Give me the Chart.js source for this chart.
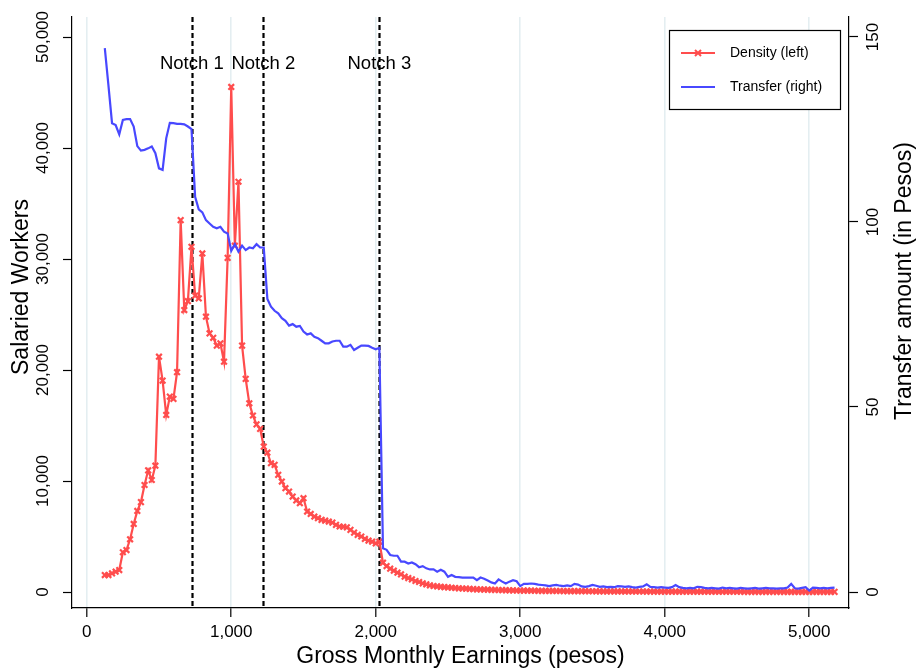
<!DOCTYPE html>
<html>
<head>
<meta charset="utf-8">
<title>Salaried workers and transfer by gross monthly earnings</title>
<script src="https://cdn.jsdelivr.net/npm/chart.js@4.4.0/dist/chart.umd.min.js"></script>
<style>
    html, body { margin: 0; padding: 0; background: #ffffff; }
    #wrap { width: 917px; height: 670px; }
</style>
</head>
<body>
<div id="wrap"><canvas id="earningsChart" width="917" height="670"></canvas></div>
<script>
// Bin centres (gross monthly earnings, pesos)
const earnings = [
    125, 150, 175, 200, 225, 250, 275, 300, 325, 350,
    375, 400, 425, 450, 475, 500, 525, 550, 575, 600,
    625, 650, 675, 700, 725, 750, 775, 800, 825, 850,
    875, 900, 925, 950, 975, 1000, 1025, 1050, 1075, 1100,
    1125, 1150, 1175, 1200, 1225, 1250, 1275, 1300, 1325, 1350,
    1375, 1400, 1425, 1450, 1475, 1500, 1525, 1550, 1575, 1600,
    1625, 1650, 1675, 1700, 1725, 1750, 1775, 1800, 1825, 1850,
    1875, 1900, 1925, 1950, 1975, 2000, 2025, 2050, 2075, 2100,
    2125, 2150, 2175, 2200, 2225, 2250, 2275, 2300, 2325, 2350,
    2375, 2400, 2425, 2450, 2475, 2500, 2525, 2550, 2575, 2600,
    2625, 2650, 2675, 2700, 2725, 2750, 2775, 2800, 2825, 2850,
    2875, 2900, 2925, 2950, 2975, 3000, 3025, 3050, 3075, 3100,
    3125, 3150, 3175, 3200, 3225, 3250, 3275, 3300, 3325, 3350,
    3375, 3400, 3425, 3450, 3475, 3500, 3525, 3550, 3575, 3600,
    3625, 3650, 3675, 3700, 3725, 3750, 3775, 3800, 3825, 3850,
    3875, 3900, 3925, 3950, 3975, 4000, 4025, 4050, 4075, 4100,
    4125, 4150, 4175, 4200, 4225, 4250, 4275, 4300, 4325, 4350,
    4375, 4400, 4425, 4450, 4475, 4500, 4525, 4550, 4575, 4600,
    4625, 4650, 4675, 4700, 4725, 4750, 4775, 4800, 4825, 4850,
    4875, 4900, 4925, 4950, 4975, 5000, 5025, 5050, 5075, 5100,
    5125, 5150, 5175
];

// Density (left axis, salaried workers)
const density = [
    1530, 1530, 1680, 1830, 1980, 3580, 3780, 4750, 6130, 7300,
    8100, 9640, 10960, 10090, 11380, 21200, 19040, 15950, 17600, 17400,
    19800, 33500, 25400, 26200, 31100, 26700, 26450, 30500, 24800, 23300,
    22900, 22200, 22400, 20750, 30100, 45500, 31200, 36960, 22200, 19200,
    17000, 15900, 15100, 14700, 13100, 12550, 11600, 11450, 10550, 9950,
    9350, 9050, 8600, 8250, 8000, 8450, 7250, 7030, 6800, 6650,
    6500, 6430, 6350, 6250, 6050, 5900, 5880, 5830, 5600, 5350,
    5150, 5000, 4780, 4630, 4530, 4380, 4530, 2640, 2340, 2100,
    1920, 1740, 1590, 1380, 1260, 1140, 990, 900, 780, 690,
    600, 540, 500, 470, 440, 410, 385, 360, 335, 315,
    295, 275, 260, 245, 232, 220, 210, 200, 190, 180,
    170, 160, 152, 145, 137, 130, 126, 121, 117, 113,
    109, 105, 101, 98, 95, 92, 89, 86, 83, 80,
    78, 76, 73, 71, 69, 67, 65, 63, 61, 59,
    57, 56, 54, 52, 51, 49, 48, 46, 45, 44,
    43, 41, 40, 39, 38, 37, 36, 35, 34, 33,
    32, 31, 31, 30, 29, 28, 28, 27, 26, 26,
    25, 24, 24, 23, 23, 22, 22, 21, 21, 20,
    20, 19, 19, 18, 18, 18, 17, 17, 16, 16,
    16, 15, 15, 15, 14, 14, 14, 13, 13, 13,
    12, 12, 12
];

// Transfer (right axis, pesos)
const transfer = [
    147, 137, 126.7, 126.2, 123.7, 127.6, 127.8, 127.8, 125.8, 120.5,
    119.3, 119.5, 119.9, 120.4, 118.6, 114.5, 114.1, 122.6, 126.8, 126.7,
    126.5, 126.5, 126.4, 125.8, 125.1, 106.8, 103.4, 102.6, 100.5, 99.6,
    98.7, 98.3, 98.7, 97.4, 96.9, 92.2, 94.0, 92.0, 93.6, 92.4,
    93.1, 92.9, 94.0, 93.1, 93.1, 79.2, 77.1, 76.0, 75.3, 74.0,
    73.3, 72.0, 72.4, 71.7, 71.9, 70.4, 69.6, 69.9, 69.0, 68.6,
    67.9, 67.2, 67.2, 67.7, 67.9, 67.9, 66.3, 66.3, 66.8, 65.4,
    66.0, 66.6, 66.6, 66.5, 66.0, 65.6, 66.0, 11.8, 11.4, 10.0,
    9.8, 9.8, 8.2, 8.2, 7.7, 8.0, 7.5, 6.7, 7.0, 6.4,
    6.1, 6.1, 5.5, 6.0, 5.5, 4.1, 4.6, 4.1, 4.0, 3.9,
    3.9, 3.9, 3.9, 3.2, 3.9, 3.6, 3.1, 2.6, 2.3, 3.4,
    2.8, 2.3, 2.8, 3.2, 2.9, 1.6, 2.2, 2.2, 2.3, 2.2,
    2.0, 1.9, 1.8, 1.6, 1.8, 1.9, 1.7, 1.6, 1.8, 1.6,
    2.2, 2.0, 1.5, 1.4, 1.6, 1.9, 1.7, 1.4, 1.5, 1.3,
    1.4, 1.3, 1.6, 1.5, 1.4, 1.5, 1.3, 1.2, 1.4, 1.5,
    2.1, 1.4, 1.3, 1.2, 1.3, 1.2, 1.1, 1.3, 1.9, 1.3,
    1.1, 1.0, 1.1, 1.0, 1.4, 1.3, 1.1, 1.0, 1.1, 1.0,
    0.9, 1.2, 1.0, 1.1, 1.0, 0.9, 1.1, 1.0, 0.9, 1.0,
    1.1, 0.9, 1.0, 1.1, 1.0, 1.0, 0.9, 1.0, 1.0, 1.2,
    2.2, 1.0, 0.9, 1.1, 1.3, 0.4, 1.2, 1.1, 1.0, 1.1,
    1.0, 1.1, 1.2
];

const notches = [727, 1222, 2025];
const notchLabels = ['Notch 1', 'Notch 2', 'Notch 3'];

const xTicks = [0, 1000, 2000, 3000, 4000, 5000];
const xTickLabels = ['0', '1,000', '2,000', '3,000', '4,000', '5,000'];
const leftTicks = [0, 10000, 20000, 30000, 40000, 50000];
const leftTickLabels = ['0', '10,000', '20,000', '30,000', '40,000', '50,000'];
const rightTicks = [0, 50, 100, 150];
const rightTickLabels = ['0', '50', '100', '150'];

const FONT = '"Liberation Sans", Arial, Helvetica, sans-serif';
const RED = 'rgb(255, 77, 77)';
const BLUE = 'rgb(72, 72, 255)';
const GRID = 'rgb(228, 238, 241)';

function drawRotated(ctx, text, x, y) {
    ctx.save();
    ctx.translate(x, y);
    ctx.rotate(-Math.PI / 2);
    ctx.textAlign = 'center';
    ctx.textBaseline = 'middle';
    ctx.fillText(text, 0, 0);
    ctx.restore();
}

function drawCross(ctx, x, y, r) {
    ctx.beginPath();
    ctx.moveTo(x - r, y - r);
    ctx.lineTo(x + r, y + r);
    ctx.moveTo(x + r, y - r);
    ctx.lineTo(x - r, y + r);
    ctx.stroke();
}

// notch lines, rotated tick labels, axis titles and the boxed legend
const overlay = {
    id: 'overlay',
    beforeDatasetsDraw(chart) {
        const { ctx, chartArea, scales } = chart;
        ctx.save();
        ctx.strokeStyle = '#000';
        ctx.lineWidth = 2.2;
        ctx.setLineDash([5, 3]);
        notches.forEach(function(v) {
            const x = Math.round(scales.x.getPixelForValue(v)) + 0.5;
            ctx.beginPath();
            ctx.moveTo(x, chartArea.top);
            ctx.lineTo(x, chartArea.bottom);
            ctx.stroke();
        });
        ctx.restore();
    },
    afterDraw(chart) {
        const { ctx, scales } = chart;
        ctx.save();
        ctx.fillStyle = '#000';

        ctx.font = '18.5px ' + FONT;
        ctx.textAlign = 'center';
        ctx.textBaseline = 'middle';
        notches.forEach(function(v, i) {
            ctx.fillText(notchLabels[i], scales.x.getPixelForValue(v), 64);
        });

        ctx.font = '17px ' + FONT;
        leftTicks.forEach(function(v, i) {
            drawRotated(ctx, leftTickLabels[i], 43, scales.y.getPixelForValue(v));
        });
        rightTicks.forEach(function(v, i) {
            drawRotated(ctx, rightTickLabels[i], 873, scales.y2.getPixelForValue(v));
        });

        ctx.font = '23px ' + FONT;
        drawRotated(ctx, 'Salaried Workers', 22, 287);
        drawRotated(ctx, 'Transfer amount (in Pesos)', 905, 281);

        // legend
        const lx = 669.5, ly = 30.5, lw = 171, lh = 79;
        ctx.fillStyle = '#fff';
        ctx.fillRect(lx, ly, lw, lh);
        ctx.strokeStyle = '#000';
        ctx.lineWidth = 1.2;
        ctx.strokeRect(lx, ly, lw, lh);
        ctx.font = '14px ' + FONT;
        ctx.textAlign = 'left';
        ctx.textBaseline = 'middle';
        chart.data.datasets.forEach(function(ds, i) {
            const y = 53 + i * 34;
            ctx.strokeStyle = ds.borderColor;
            ctx.lineWidth = 2;
            ctx.beginPath();
            ctx.moveTo(681, y);
            ctx.lineTo(715, y);
            ctx.stroke();
            if (ds.pointRadius > 0) drawCross(ctx, 698, y, 3);
            ctx.fillStyle = '#000';
            ctx.fillText(ds.label, 730, y);
        });
        ctx.restore();
    }
};

window.addEventListener('load', function() {
    const ctx = document.getElementById('earningsChart').getContext('2d');
    const earningsChart = new Chart(ctx, {
        type: 'line',
        data: {
            datasets: [{
                label: 'Density (left)',
                data: earnings.map(function(x, i) { return { x: x, y: density[i] }; }),
                yAxisID: 'y',
                borderColor: RED,
                backgroundColor: RED,
                borderWidth: 2.2,
                pointStyle: 'crossRot',
                pointRadius: 4,
                pointBorderWidth: 2.2,
                pointBorderColor: RED,
                tension: 0,
                order: 1
            }, {
                label: 'Transfer (right)',
                data: earnings.map(function(x, i) { return { x: x, y: transfer[i] }; }),
                yAxisID: 'y2',
                borderColor: BLUE,
                backgroundColor: BLUE,
                borderWidth: 2.2,
                pointRadius: 0,
                tension: 0,
                order: 0
            }]
        },
        options: {
            responsive: false,
            animation: false,
            devicePixelRatio: 1,
            events: [],
            layout: { padding: { top: 17, left: 0, right: 0, bottom: 0 } },
            scales: {
                x: {
                    type: 'linear',
                    position: 'bottom',
                    min: -102,
                    max: 5275,
                    afterBuildTicks: function(scale) {
                        scale.ticks = xTicks.map(function(v) { return { value: v }; });
                    },
                    afterFit: function(scale) { scale.height = 62; },
                    grid: {
                        color: GRID,
                        lineWidth: 1.6,
                        drawTicks: true,
                        tickLength: 9,
                        tickColor: '#000',
                        tickWidth: 1.2
                    },
                    border: { display: true, color: '#000', width: 1.2 },
                    ticks: {
                        color: '#000',
                        padding: 5,
                        maxRotation: 0,
                        font: { family: FONT, size: 17 },
                        callback: function(value) {
                            const i = xTicks.indexOf(value);
                            return i >= 0 ? xTickLabels[i] : '';
                        }
                    },
                    title: {
                        display: true,
                        text: 'Gross Monthly Earnings (pesos)',
                        color: '#000',
                        padding: { top: 0, bottom: 0 },
                        font: { family: FONT, size: 23, lineHeight: 1.2 }
                    }
                },
                y: {
                    type: 'linear',
                    position: 'left',
                    min: -1441,
                    max: 51802,
                    afterBuildTicks: function(scale) {
                        scale.ticks = leftTicks.map(function(v) { return { value: v }; });
                    },
                    afterFit: function(scale) { scale.width = 72; },
                    grid: {
                        drawOnChartArea: false,
                        drawTicks: true,
                        tickLength: 9,
                        tickColor: '#000',
                        tickWidth: 1.2
                    },
                    border: { display: true, color: '#000', width: 1.2 },
                    ticks: { display: false }
                },
                y2: {
                    type: 'linear',
                    position: 'right',
                    min: -4.324,
                    max: 155.4,
                    afterBuildTicks: function(scale) {
                        scale.ticks = rightTicks.map(function(v) { return { value: v }; });
                    },
                    afterFit: function(scale) { scale.width = 68; },
                    grid: {
                        drawOnChartArea: false,
                        drawTicks: true,
                        tickLength: 9,
                        tickColor: '#000',
                        tickWidth: 1.2
                    },
                    border: { display: true, color: '#000', width: 1.2 },
                    ticks: { display: false }
                }
            },
            plugins: {
                legend: { display: false },
                tooltip: { enabled: false }
            }
        },
        plugins: [overlay]
    });
});
</script>
</body>
</html>
